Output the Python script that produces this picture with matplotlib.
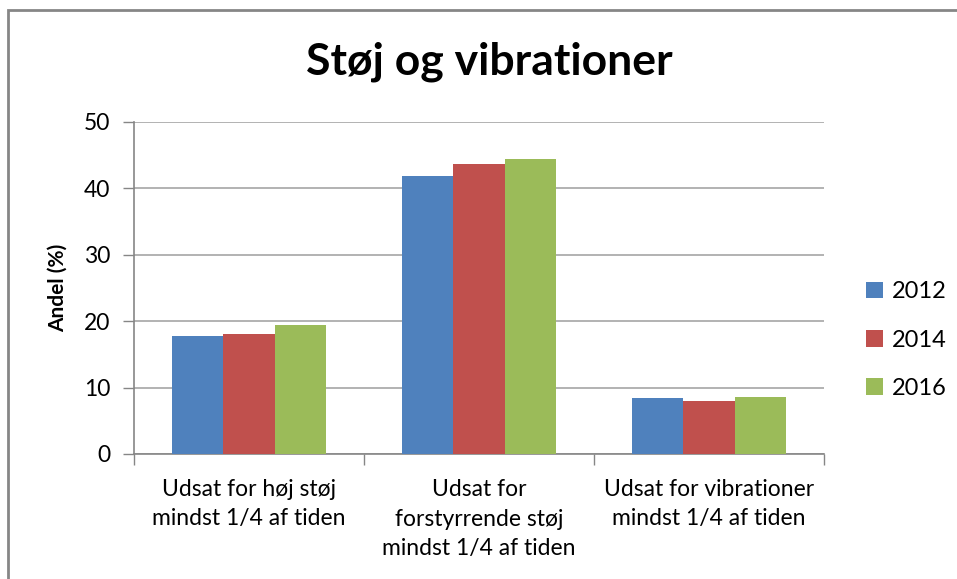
import numpy as np
import matplotlib.pyplot as plt
from matplotlib.patches import Rectangle

categories = ['Udsat for høj støj\nmindst 1/4 af tiden',
              'Udsat for\nforstyrrende støj\nmindst 1/4 af tiden',
              'Udsat for vibrationer\nmindst 1/4 af tiden']
years = ['2012', '2014', '2016']
v2012 = [17.8, 41.8, 8.4]
v2014 = [18.0, 43.7, 8.0]
v2016 = [19.4, 44.5, 8.6]
colors = ['#4f81bd', '#c0504d', '#9bbb59']

plt.rcParams['font.family'] = ['Lato', 'DejaVu Sans']

fig = plt.figure(figsize=(9.57, 5.79), dpi=100)
ax = fig.add_axes([134/957, 1 - 454/579, (824-134)/957, (454-122)/579])

x = np.arange(len(categories))
w = 0.222
for i, (vals, c, lab) in enumerate(zip([v2012, v2014, v2016], colors, years)):
    ax.bar(x + (i - 1) * w, vals, w, color=c, label=lab, zorder=3)

ax.set_xlim(-0.5, 2.5)
ax.set_ylim(0, 50)
ax.set_yticks(range(0, 51, 10))
ax.yaxis.grid(True, color='#a6a6a6', linewidth=1.2, zorder=0)
ax.set_xticks([-0.5, 0.5, 1.5, 2.5])
ax.set_xticklabels([])
ax.set_xticks(x, minor=True)
ax.set_xticklabels(categories, minor=True, fontsize=16.5, linespacing=1.5)
ax.tick_params(axis='x', which='minor', length=0, pad=18)
ax.tick_params(axis='x', which='major', length=8, color='#868686', width=1)
ax.tick_params(axis='y', length=8, color='#868686', width=1, labelsize=16.5, pad=9)
for s in ['top', 'right']:
    ax.spines[s].set_visible(False)
for s in ['left', 'bottom']:
    ax.spines[s].set_color('#868686')
    ax.spines[s].set_linewidth(1.2)

ax.set_ylabel('Andel (%)', fontsize=15, fontweight='bold', labelpad=12)
fig.text(489/957, 1 - 62/579, 'Støj og vibrationer', fontsize=32, fontweight='bold',
         ha='center', va='center')

ax.legend(loc='center left', bbox_to_anchor=(866/957, 1 - 340/579), bbox_transform=fig.transFigure,
          frameon=False, fontsize=17, handlelength=0.7, handleheight=0.7,
          handletextpad=0.4, labelspacing=1.15, borderaxespad=0, borderpad=0)

fig.patches.append(Rectangle((8/957, -0.1), 1.2, 1 - 10/579 + 0.1, transform=fig.transFigure,
                             fill=False, edgecolor='#868686', linewidth=2))

fig.savefig('out.png', dpi=100)
